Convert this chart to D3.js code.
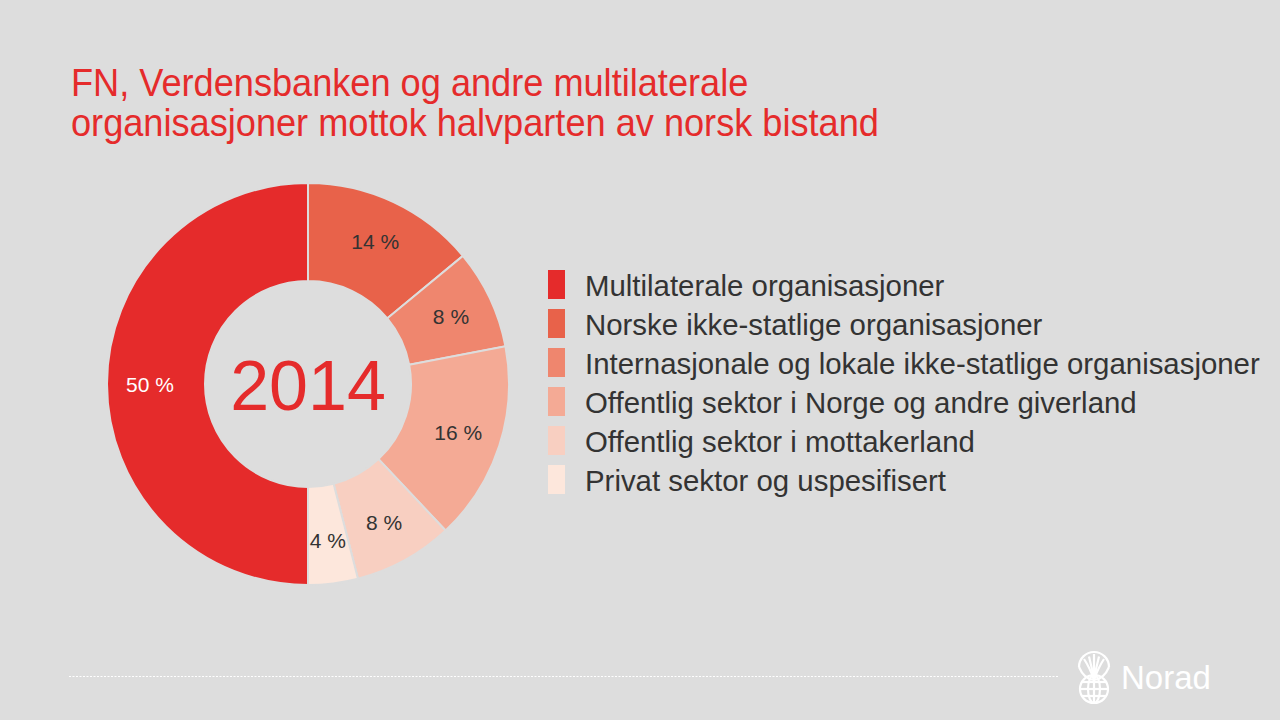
<!DOCTYPE html>
<html>
<head>
<meta charset="utf-8">
<script src="https://cdn.jsdelivr.net/npm/d3@7"></script>
<style>
  html, body { margin: 0; padding: 0; background: #dddddd; }
  svg { display: block; }
</style>
</head>
<body>
<svg id="chart" width="1280" height="720"></svg>
<script>
var categories = [
  'Multilaterale organisasjoner',
  'Norske ikke-statlige organisasjoner',
  'Internasjonale og lokale ikke-statlige organisasjoner',
  'Offentlig sektor i Norge og andre giverland',
  'Offentlig sektor i mottakerland',
  'Privat sektor og uspesifisert'
];
var shares = [50, 14, 8, 16, 8, 4];
var colors = ['#e52b2b', '#e8624a', '#ef866e', '#f4aa95', '#f8cfc1', '#fde7dc'];
// slices go clockwise from 12 o'clock, starting with the second category
var sliceOrder = [1, 2, 3, 4, 5, 0];
var titleLines = [
  'FN, Verdensbanken og andre multilaterale',
  'organisasjoner mottok halvparten av norsk bistand'
];
var year = '2014';

var svg = d3.select('#chart');
var RED = '#e52b2b';
var DARK = '#333333';
var FONT = 'Liberation Sans, Arial, sans-serif';

svg.append('rect').attr('width', 1280).attr('height', 720).attr('fill', '#dddddd');

// title (squeezed a bit, the original face is narrower)
svg.append('g')
  .attr('transform', 'translate(71,0) scale(0.952,1)')
  .selectAll('text')
  .data(titleLines)
  .join('text')
  .attr('x', 0)
  .attr('y', function(d, i) { return 96 + i * 40; })
  .attr('fill', RED)
  .attr('font-family', FONT)
  .attr('font-size', 38)
  .text(function(d) { return d; });

// donut
var cx = 308, cy = 384;
var outerR = 201, innerR = 103;

var pieData = sliceOrder.map(function(i) {
  return {idx: i, value: shares[i]};
});

var pie = d3.pie()
  .sort(null)
  .value(function(d) { return d.value; });

var arc = d3.arc().innerRadius(innerR).outerRadius(outerR);
var labelArc = d3.arc().innerRadius(158).outerRadius(158);

var donut = svg.append('g').attr('transform', 'translate(' + cx + ',' + cy + ')');

var arcs = pie(pieData);

donut.selectAll('path')
  .data(arcs)
  .join('path')
  .attr('d', arc)
  .attr('fill', function(d) { return colors[d.data.idx]; })
  .attr('stroke', '#dddddd')
  .attr('stroke-width', 2);

donut.selectAll('text.lbl')
  .data(arcs)
  .join('text')
  .attr('class', 'lbl')
  .attr('transform', function(d) {
    var c = labelArc.centroid(d);
    return 'translate(' + c[0] + ',' + c[1] + ')';
  })
  .attr('text-anchor', 'middle')
  .attr('dy', '0.36em')
  .attr('font-family', FONT)
  .attr('font-size', 21)
  .attr('fill', function(d) { return d.data.idx === 0 ? '#ffffff' : DARK; })
  .text(function(d) { return d.data.value + ' %'; });

donut.append('text')
  .attr('text-anchor', 'middle')
  .attr('y', 26)
  .attr('font-family', FONT)
  .attr('font-size', 70)
  .attr('fill', RED)
  .text(year);

// legend
var legend = svg.append('g').attr('transform', 'translate(548,270)');
var rows = legend.selectAll('g')
  .data(categories)
  .join('g')
  .attr('transform', function(d, i) { return 'translate(0,' + (i * 39) + ')'; });

rows.append('rect')
  .attr('width', 17)
  .attr('height', 29)
  .attr('fill', function(d, i) { return colors[i]; });

rows.append('text')
  .attr('x', 37)
  .attr('y', 26)
  .attr('font-family', FONT)
  .attr('font-size', 29.4)
  .attr('fill', DARK)
  .text(function(d) { return d; });

// footer rule
svg.append('line')
  .attr('x1', 69).attr('x2', 1058)
  .attr('y1', 676.5).attr('y2', 676.5)
  .attr('stroke', '#ffffff')
  .attr('stroke-width', 1)
  .attr('stroke-dasharray', '2,1.5');

// Norad logo
var logo = svg.append('g')
  .attr('transform', 'translate(1094,676)')
  .attr('fill', 'none')
  .attr('stroke', '#ffffff')
  .attr('stroke-width', 2.2);

// upper leaf
logo.append('path').attr('d', 'M-15,-9 A15,15 0 0 1 15,-9');
logo.append('path').attr('d', 'M-15,-9 Q-10,3 0,4 Q10,3 15,-9');
[-10, -5, 0, 5, 10].forEach(function(x) {
  logo.append('path').attr('d', 'M0,4 Q' + (x * 0.4) + ',-8 ' + x + ',-' + (22 - Math.abs(x) * 0.5));
});
// lower globe
logo.append('circle').attr('cx', 0).attr('cy', 13).attr('r', 14);
logo.append('ellipse').attr('cx', 0).attr('cy', 13).attr('rx', 6).attr('ry', 14);
logo.append('line').attr('x1', 0).attr('x2', 0).attr('y1', -1).attr('y2', 27);
logo.append('line').attr('x1', -14).attr('x2', 14).attr('y1', 13).attr('y2', 13);
logo.append('line').attr('x1', -12).attr('x2', 12).attr('y1', 6).attr('y2', 6);
logo.append('line').attr('x1', -12).attr('x2', 12).attr('y1', 20).attr('y2', 20);

svg.append('text')
  .attr('x', 1121)
  .attr('y', 689)
  .attr('font-family', FONT)
  .attr('font-size', 33)
  .attr('fill', '#ffffff')
  .text('Norad');
</script>
</body>
</html>
